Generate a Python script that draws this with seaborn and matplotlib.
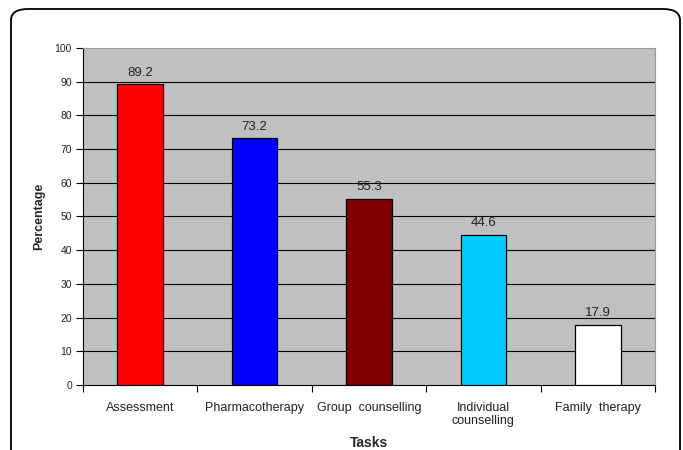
import numpy as np
import pandas as pd
import matplotlib
matplotlib.use('Agg')
import matplotlib.pyplot as plt
from matplotlib.patches import FancyBboxPatch
import seaborn as sns

# data
tasks = ['Assessment', 'Pharmacotherapy', 'Group  counselling', 'Individual\ncounselling', 'Family  therapy']
percentages = [89.2, 73.2, 55.3, 44.6, 17.9]
bar_colors = ['#FF0000', '#0000FF', '#800000', '#00CCFF', '#FFFFFF']

sns.set_style('white')
plt.rcParams['font.family'] = ['Liberation Sans', 'DejaVu Sans']

df = pd.DataFrame({'task': tasks, 'pct': percentages})

fig = plt.figure(figsize=(6.83, 4.5), dpi=100)
ax = fig.add_axes([83 / 683, 1 - 385 / 450, 572 / 683, 337 / 450])
ax.set_facecolor('#C0C0C0')

sns.barplot(data=df, x='task', y='pct', hue='task', palette=bar_colors, width=0.4,
            saturation=1, edgecolor='black', linewidth=0.9, legend=False, ax=ax, zorder=3)

ax.set_ylim(0, 100)
ax.set_xlim(-0.5, len(tasks) - 0.5)
ax.set_yticks(np.arange(0, 101, 10))
for y in range(10, 100, 10):
    ax.axhline(y, color='black', linewidth=0.8, zorder=1)

for container in ax.containers:
    ax.bar_label(container, fmt='%.1f', padding=4, fontsize=9.5, color='#222222')

# tick marks between categories
ax.set_xticks(np.arange(-0.5, len(tasks)), minor=True)
ax.tick_params(axis='x', which='minor', length=5, width=0.8, color='black', direction='out', bottom=True)
ax.tick_params(axis='x', which='major', length=0, pad=12, labelsize=9, labelcolor='#222222')
ax.tick_params(axis='y', length=5, width=0.8, color='black', direction='out', left=True,
               labelsize=7.5, labelcolor='#222222', pad=3)

for side in ['top', 'right']:
    ax.spines[side].set_color('#999999')
    ax.spines[side].set_linewidth(0.8)
for side in ['left', 'bottom']:
    ax.spines[side].set_color('black')
    ax.spines[side].set_linewidth(0.8)

ax.set_xlabel('Tasks', fontsize=10, fontweight='bold', labelpad=6)
ax.set_ylabel('Percentage', fontsize=9, fontweight='bold', labelpad=7)

# rounded outer frame
frame = FancyBboxPatch((11 / 683, -0.1), 669 / 683, 1 - 9 / 450 + 0.1,
                       boxstyle='round,pad=0,rounding_size=0.025',
                       transform=fig.transFigure, fill=False, edgecolor='black',
                       linewidth=1.3, clip_on=False)
fig.patches.append(frame)

plt.savefig('out.png', dpi=100)
